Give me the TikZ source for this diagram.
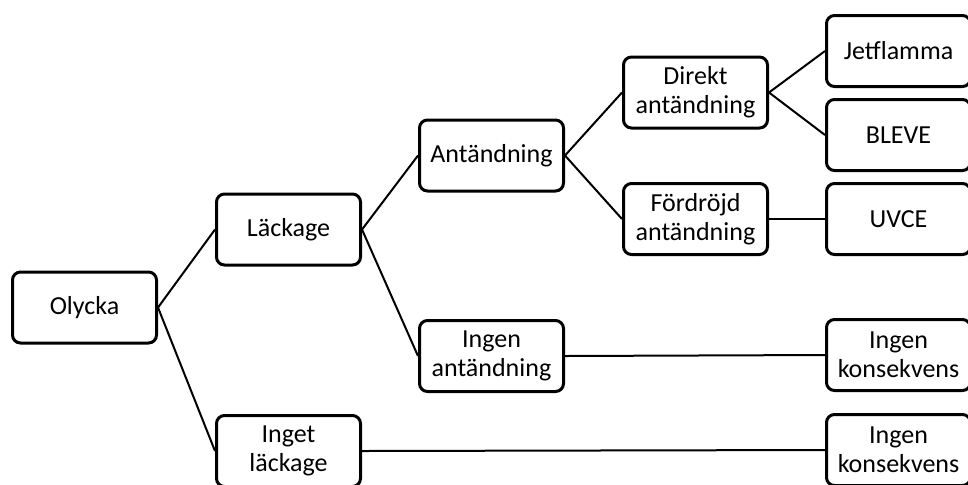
\documentclass[tikz,border=0pt]{standalone}
\usepackage{fontspec}
\setmainfont{Carlito}
\usepackage{tikz}

\begin{document}
\begin{tikzpicture}[x=0.5pt, y=-0.5pt,
  box/.style={draw, line width=1.5pt, rounded corners=4pt,
    minimum width=72pt, minimum height=35.5pt, inner sep=0pt,
    align=center, font=\fontsize{13}{14.5}\selectfont},
  link/.style={line width=1pt}]
  \useasboundingbox (0,0) rectangle (968,484);
  \clip (0,0) rectangle (968,484);

  % event tree boxes
  \node[box] (olycka) at (84.5,307.5) {Olycka};
  \node[box] (lackage) at (288.5,229.5) {Läckage};
  \node[box] (ingetlackage) at (288.5,451) {Inget\\läckage};
  \node[box] (antandning) at (491.5,155.5) {Antändning};
  \node[box] (ingenant) at (491.5,356) {Ingen\\antändning};
  \node[box] (direkt) at (695.5,92.5) {Direkt\\antändning};
  \node[box] (fordrojd) at (695.5,219) {Fördröjd\\antändning};
  \node[box] (jet) at (898.5,51) {Jetflamma};
  \node[box] (bleve) at (898.5,135) {BLEVE};
  \node[box] (uvce) at (898.5,219) {UVCE};
  \node[box] (ingenkons) at (898.5,355) {Ingen\\konsekvens};
  \node[box] (ingenkons2) at (898.5,450) {Ingen\\konsekvens};

  % branches
  \draw[link] (olycka.east) -- (lackage.west);
  \draw[link] (olycka.east) -- (ingetlackage.west);
  \draw[link] (lackage.east) -- (antandning.west);
  \draw[link] (lackage.east) -- (ingenant.west);
  \draw[link] (antandning.east) -- (direkt.west);
  \draw[link] (antandning.east) -- (fordrojd.west);
  \draw[link] (direkt.east) -- (jet.west);
  \draw[link] (direkt.east) -- (bleve.west);
  \draw[link] (fordrojd.east) -- (uvce.west);
  \draw[link] (ingenant.east) -- (ingenkons.west);
  \draw[link] (ingetlackage.east) -- (ingenkons2.west);
\end{tikzpicture}
\end{document}
